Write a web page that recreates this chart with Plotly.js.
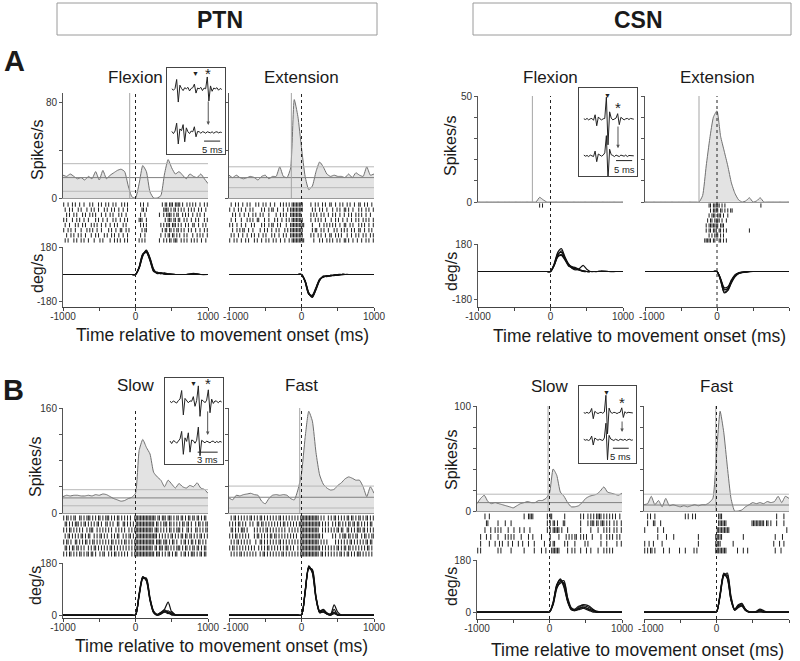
<!DOCTYPE html>
<html><head><meta charset="utf-8">
<script src="https://cdn.plot.ly/plotly-3.0.1.min.js"></script>
<style>html,body{margin:0;padding:0;background:#fff}#chart{width:800px;height:661px}</style>
</head><body><div id="chart"></div>
<script>
// ---------------- DATA ----------------
const psthTime = [-1000,-950,-900,-850,-800,-750,-700,-650,-600,-550,-500,-450,-400,-350,-300,-250,-200,-150,-100,-50,0,50,100,150,200,250,300,350,400,450,500,550,600,650,700,750,800,850,900,950,1000];
const velTime = [-1000,-500,-50,0,50,100,150,200,250,300,350,400,450,500,550,600,650,700,800,900,1000];
const alignTime = 0;
const xTickVals = [-1000,-500,0,500,1000];
const xTickText = ['-1000','','0','','1000'];

// firing rates (spikes/s)
const ptnFlexRate = [19,18,20,18,16,17,15,18,16,22,15,23,16,19,21,23,24,22,10,1,0,12,27,22,5,0,0,2,20,32,25,20,22,19,16,20,18,17,20,16,12];
const ptnExtRate  = [19,17,19,17,16,17,18,17,15,18,19,16,18,18,26,18,17,25,82,68,42,18,7,10,22,30,26,20,18,19,18,18,17,20,17,21,19,18,26,19,20];
const csnFlexRate = [0,0,0,0,0,0,0,0,0,0,0,0,0,0,0,0,0,2.2,1.0,0,0,0,0,0,0,0,0,0,0,0,0,0,0,0,0,0,0,0,0,0,0];
const csnExtRate  = [0,0,0,0,0,0,0,0,0,0,0,0,0,0,0,0,3,17,30,40,43,31,24,17,9,4,1,0,0.5,2,0,0.5,2,0,0,0,0,0,0,0,0];
const ptnSlowRate = [25,27,26,27,27,26,26,27,26,28,27,29,28,25,22,20,18,19,22,24,30,95,112,100,90,62,55,50,40,50,44,38,45,40,38,42,40,46,38,36,30];
const ptnFastRate = [23,20,27,26,28,29,30,28,27,18,14,22,27,28,27,28,27,22,20,35,60,115,155,140,92,58,44,38,35,36,42,46,52,55,53,50,50,40,25,40,30];
const csnSlowRate = [7,12,15,9,7,8,7,6,5,4,3,5,7,8,9,8,8,10,10,12,17,40,34,18,14,8,4,4,5,8,12,14,15,16,19,23,18,17,16,15,17];
const csnFastRate = [6,7,14,6,10,4,12,5,6,5,4,5,4,5,6,5,6,6,8,12,55,95,75,42,12,0,0,1,4,6,8,7,8,7,9,8,9,14,8,14,12];

// significance band limits and mean baseline (spikes/s)
const ptnFlexBand = [28.6, 5.6], ptnFlexMean = [17];
const ptnExtBand  = [26, 8.6],   ptnExtMean  = [17];
const csnFlexBand = [],          csnFlexMean = [];
const csnExtBand  = [],          csnExtMean  = [];
const ptnSlowBand = [35.5, 11],  ptnSlowMean = [23];
const ptnFastBand = [41, 7.6],   ptnFastMean = [24];
const csnSlowBand = [16],        csnSlowMean = [8];
const csnFastBand = [16],        csnFastMean = [5.7];

// response onset markers (ms)
const ptnFlexMark = [-80], ptnExtMark = [-140], csnFlexMark = [-250], csnExtMark = [-250];
const ptnSlowMark = [], ptnFastMark = [-25], csnSlowMark = [-20], csnFastMark = [-10];

// PSTH y ticks
const ptnARateTicks = [0,40,80];
const csnARateTicks = [0,10,20,30,40,50];
const ptnBRateTicks = [0,40,80,120,160];
const csnBRateTicks = [0,20,40,60,80,100];
const velTicksA = [-180,180];
const velTicksB = [0,180];

// rasters: one string per trial, 20 ms bins from -1000 to 1000, '|' = spike
const ptnFlexSpikes = [
"|..|..|.|. .|..|...|. |...|.|..| .|..|.|... |.|.|..... ...|.|..|. ........|. ||.|||.||| |.|..|.|.| .|..|..|.|",
".|..|.|... |.|...|..| .|..|...|. |..|.|..|. .|..|..... ....||.|.. .........| |||.|.||.| .|.|..|.|. |..|.|..|.",
"..|.|..|.| ...|.|..|. |.|...|..| ..|.|...|. |..|...... ...|..|... ......|..| .||||.|.|| ..|.|.|..| ..|.|..|..",
"|.|...|..| .|..|..|.. ..|.|..|.. |...|.|..| ..|.|..... ..|||..|.. .......... |.|||.||.| |..|.|..|. .|.|...|.|",
".|..|...|. |..|.|...| .|.|..|..| ..|..|.|.. .|.|...... ...|.|.|.. .......|.| .|||.|||.| .|..|.|..| |..|..|.|.",
"|..|.|..|. ..|...|.|. |..|..|... .|.|..|..| |..|.|.... ....|.||.. ........|. ||.||.|.|| .|.|..|.|. .|..|..|.|",
"..|..|.|.. |.|..|...| ..|.|...|. |..|.|..|. .|..|..... ...|..|... .......|.. |.||.||.|. |..|.|...| ..|.|.|..|",
".|.|...|.| ..|.|..|.. .|...|.|.. ..|..|.|.| ..|.|..... ..|.|.|... ......|..| .|.||.|||. .|.|.|..|. |.|..|..|."];
const ptnExtSpikes = [
".|..|.|..| ..|.|...|. |..|.|..|. .|...|.|.| .|.||||||| |.....|..| .|..|.|..| |..|..|.|. .|.|..|..| |..|.|..|.",
"|..|..|.|. .|..|.|... ..|.|..|.| |..|...|.. |.|||||||| |......|.| ..|.|..|.. .|..|.|..| |.|..|...| .|..|.|..|",
"..|.|..|.. |..|..|.|. .|.|...|.. ..|..|.|.| ..|||||||| ......|.|. |..|.|..|. .|.|..|..| ..|.|..|.| .|..|..|..",
".|..|...|. ..|.|.|..| |...|..|.. .|.|..|..| .|.||||||| |.....|..| .|.|..|... |..|.|..|. .|..|..|.| ..|.|.|..|",
"|.|..|..|. .|...|.|.. ..|.|..|.| |..|.|...| ..|||||||| ||.....|.. ..|..|.|.| .|.|..|..| |..|.|...| .|.|..|..|",
"..|..|.|.| |..|..|... .|..|.|..| ..|.|...|. |.|||||||| |......|.| |..|.|..|. ..|.|..|.| .|..|.|..| |..|..|.|.",
".|.|..|..| ..|..|.|.. |..|.|...| .|..|..|.| ..|||||||| |.....|.|. .|.|..|..| |..|.|.|.. .|..|..|.| ..|.|..|.|",
"|..|.|..|. .|.|...|.| ..|..|.|.. |.|..|..|. .|.||||||| ||......|. ..|.|..|.| .|..|.|..| |.|..|..|. .|..|.|..|"];
const csnFlexSpikes = [
".......... .......... .......... .......... ..|.|..... .......... .......... .......... .......... ..........",
"","","","","","",""];
const csnExtSpikes = [
".......... .......... .......... .......... ....||.||| ||.|.|.... .......... .......... |......... ..........",
".......... .......... .......... .......... .....|.||| |.||.|.|.| |......... .......... .......... ..........",
".......... .......... .......... .......... ....|.|||. |||.|..|.. .......... .......... .......... ..........",
".......... .......... .......... .......... ...|.||.|| ||.|..|... .......... .......... .......... ..........",
".......... .......... .......... .......... ..|.|||||| |.|||..... .......... .......... .......... ..........",
".......... .......... .......... .......... ..|.||.||| .||.|.|... .......... ..|....... .......... ..........",
".......... .......... .......... .......... ....|.|.|| |.|.|..... .......... .......... .......... ..........",
".......... .......... .......... .......... .|||||.||. .||.|.|... .......... .......... .......... .........."];
const ptnSlowSpikes = [
"|.||.|.||. .||.|.|||. |.|.||.|.| ||.|.|.||. |.|.|.|..| |||||||||| ||||.||.|| |.|||.|.|| .||.|.||.| |.||.|.||.",
".||.|.|.|| |.|.||.|.| .|.||.|..| |.|.|..||. .||.|.|.|. |||||||||| |||.||.|.| ||.||.|.|. |.||.||.|. .|.||.|.||",
"|.|.||.|.| .|.|..|.|| |..|.|.|.| .|.|..|.|. |.|..|.|.| |||||||||| ||.|||.|.| .|.||.|.|| |.|..||.|. .||.|.|.||",
".|.||.|.|. |.||.|.||. .|.|.||.|. |..|.|.||. .|.|.||.|. |||||||||| |||||.|.|. |.|.||.|.| .||.||.||. |.|.||.|.|",
"|.||.|..|| .|.|.||.|. ||.|.|.|.| .|.||.|.|. |.||.|.|.| |||||||||| |||.||||.| ||.|.||.|. .|.||.|.|| .|.||.|.|.",
".||.|.||.| |.|.|..|.| .||.|.|.|. |.||.|.|.| .|.|.|.|.| |||||||||| ||.||.|||. |||.|.|.|| |.|.||.|.| |.||.|.||.",
"|.|.||.|.| .||.|.||.| |.|..|.||. .|.|.||.|. |.|.|..|.| |||||||||| |||.|||.|. |.||.|.||. .|.||.|.|| |.|.||.||."];
const ptnFastSpikes = [
".|.||.|.|. |.|.||.|.| .||.|.|.|. |.|.||.|.| .|.|.|.|.| |||||||||| ||.|.|..|. |.||.|.|.| .||.||.|.| |.|.||.|.|",
"|.|.|.||.| .|..|.|..| |.||.|.|.| .|.|.|.||. |.|.|.|.|| |||||||||| |||.|.|.|. .|.|.||.|. |.||.||.|| .|.|.|.||.",
".||.|.|.|| |.|....|.| .|.|.||.|. |.|.|.|.|. .|.|.|.|.| |||||||||| ||..|.|.|. |.|.||.||. .||.|.|.|| |.||.|.|.|",
"|.|.||.|.| .|.|...|.| |.|.|.|.|| .||.|.|.|. |.|.|.|..| |||||||||| |||.|..... .|.|..|.|| |.||.|.||. .|.||.|.||",
".|.|.||.|. |.|.|...|. .||.|.|.|. |.|.||.|.| .|.|.|.|.| |||||||||| ||.|.|.|.. ...|.|.|.| .|.||.|.|. |.|.||.||.",
"|.||.|.|.| .|.|.|.|.. |.|.|.||.| .|.|.|.|.| |.|.|..|.| |||||||||| |||.|.|.|. |.|.||.|.| |.||.|.|.| .|.|.||.|.",
".|.|.|.||. |.|.|.|.|. .|.||.|.|. |.|.|.||.| .|.|.|.|.| |||||||||| ||.||.|.|. |.|.|.||.| .||.|.|.|| |.|.|.|.|."];
const csnSlowSpikes = [
".....|..|. .......... .......... ..|..||||. ........|. ||........ |......... .|.|..|.|. |.||||.|.| .|.|.|..|.",
"......||.. ....|....| ...|...... .......... ........|. |.||.|...| |......... .|....|.|| |.||.|||.| .|..|.|..|",
".....|...| ..|.|.|... .|...|...| ..|...|... ........|. |.|||||.|. ..|....... .|......|. ...|...|.| .|..|.|..|",
"..|...|..| ....|....| .|.|.|.... |....|..|. ....|..... |.....|... .|.|.|.||. .|.|.|...| .....|...| .|.|..|.|.",
"..|.....|. ..|..|.|.. .|..|...|. .|...|...| ......|... |.||...... |.|....|.. ....|.|... .....|...| ......|..|",
"|.|....... ....|.|... ...|...... ..|......| ....|..|.. .||||||... ..|..|.|.. .|...|..|. ...|...|.| .|.|......"];
const csnFastSpikes = [
"..|.|..|.. .......... ........|. |..|.|.... .......... .|||...... .......... .......... .......... .|....|...",
"..|...||.. .|........ .......... .......... .......... .||||||... .......... ....|||||| |||.||.|.. .|....|...",
"|........| ...|...... .......... .......... .......... |||||||||. .......... .......... .......... ........|.",
".........| .....|.... |......... .......|.. .........| ||||...... ........|. .......... .......... |....|....",
"|..|..|... ..|....... .......... .......|.. .........| |||....... .|........ .......... .........| ...|..|...",
"|.|.||.|.. ...|...|.. ....|...|. ....|.|... .........| |||||||... ....|...|. .|........ .......... |...|....."];

// angular velocity traces (deg/s), one array per trial, sampled at velTime
const ptnFlexVel = [
[0,0,0,0,45,128,152,98,28,10,8,4,0,0,0,0,0,0,0,0,0],
[0,0,0,0,40,120,158,110,35,5,12,6,2,0,0,0,0,0,0,0,0],
[0,0,0,0,50,135,148,90,20,15,5,8,3,0,0,0,0,0,8,0,0],
[0,0,0,0,42,124,160,105,30,8,10,2,0,4,0,0,0,0,0,0,0],
[0,0,0,0,48,132,145,95,22,12,6,10,5,0,0,0,0,0,5,0,0]];
const ptnExtVel = [
[0,0,0,0,-45,-125,-140,-90,-35,-15,-10,-8,-5,-3,0,0,0,0,0,0,0],
[0,0,0,0,-40,-118,-148,-100,-40,-12,-12,-6,-8,-2,0,0,0,0,0,0,0],
[0,0,0,0,-50,-130,-135,-85,-30,-18,-8,-10,-4,-5,-2,0,0,0,0,0,0],
[0,0,0,0,-42,-122,-150,-95,-38,-10,-14,-5,-6,0,0,0,0,0,0,0,0],
[0,0,0,0,-46,-128,-142,-92,-32,-16,-9,-9,-3,-4,0,0,0,0,0,0,0]];
const csnFlexVel = [
[0,0,0,0,40,100,110,80,40,25,20,10,0,0,0,0,0,0,0,0,0],
[0,0,0,0,45,115,125,85,45,30,15,10,5,0,0,0,0,0,0,0,0],
[0,0,0,0,50,125,150,95,45,20,10,20,40,15,0,0,0,0,0,0,0],
[0,0,0,0,38,95,105,75,35,30,25,12,5,0,0,0,0,5,0,0,0],
[0,0,0,0,42,105,135,90,50,22,18,8,3,0,0,0,0,0,0,0,0]];
const csnExtVel = [
[0,0,0,0,-50,-120,-110,-60,-25,-10,-5,-2,0,0,0,0,0,0,0,0,0],
[0,0,0,0,-60,-135,-120,-70,-30,-12,-6,0,0,0,0,0,0,0,0,0,0],
[0,0,0,0,-45,-105,-100,-55,-20,-8,-4,-3,0,0,0,0,0,0,0,0,0],
[0,0,0,0,-55,-140,-125,-75,-35,-15,-8,-4,-2,0,0,0,0,0,0,0,0],
[0,0,0,0,-52,-115,-112,-62,-28,-10,-5,-2,0,0,0,0,0,0,0,0,0]];
const ptnSlowVel = [
[0,0,0,0,70,130,120,55,10,0,5,15,8,0,0,0,0,0,0,0,0],
[0,0,0,0,65,125,128,60,12,2,10,20,45,10,0,0,0,0,0,0,0],
[0,0,0,0,75,133,118,50,8,0,3,12,5,12,0,0,0,0,0,0,0],
[0,0,0,0,68,128,125,58,14,3,8,18,10,2,0,0,0,0,0,0,0],
[0,0,0,0,72,132,122,52,9,0,6,10,15,5,2,0,0,0,0,0,0]];
const ptnFastVel = [
[0,0,0,0,80,165,150,60,10,15,5,0,20,0,0,0,0,0,0,0,0],
[0,0,0,0,75,160,158,65,12,20,8,2,35,10,0,0,0,0,0,0,0],
[0,0,0,0,85,170,145,55,8,10,3,0,5,0,0,0,0,0,0,0,0],
[0,0,0,0,78,162,155,62,15,18,6,4,10,0,0,0,0,0,0,0,0],
[0,0,0,0,82,168,148,58,9,12,4,0,8,3,0,0,0,0,0,0,0]];
const csnSlowVel = [
[0,0,0,0,30,90,110,95,40,10,5,10,18,15,10,5,0,0,0,0,0],
[0,0,0,0,25,80,105,108,50,15,8,15,25,25,20,10,0,0,0,0,0],
[0,0,0,0,35,95,112,85,35,8,5,12,15,10,5,0,0,0,0,0,0],
[0,0,0,0,28,85,100,102,45,12,10,20,22,20,15,8,3,0,0,0,0],
[0,0,0,0,32,92,115,90,38,10,6,8,12,14,8,3,0,0,0,0,0]];
const csnFastVel = [
[0,0,0,0,60,130,120,45,8,20,25,8,0,0,0,5,0,0,0,0,0],
[0,0,0,0,55,125,135,55,10,25,30,10,0,0,3,10,5,0,0,0,0],
[0,0,0,0,65,135,115,40,6,15,20,5,0,0,0,0,0,0,0,0,0],
[0,0,0,0,58,128,128,50,9,22,28,8,2,0,0,8,2,0,0,0,0],
[0,0,0,0,62,132,118,42,7,18,22,6,0,0,0,3,0,0,0,0,0]];

// inset waveforms (ms, arbitrary units)
const wfTime18 = [1.5,2,2.5,3,3.5,4,4.5,5,5.5,6,6.5,7,7.5,8,8.5,9,9.5,10,10.5,11,11.5,12,12.5,13,13.5,14,14.5,15,15.5,16,16.5,17];
const wfTime9  = [0.75,1,1.25,1.5,1.75,2,2.25,2.5,2.75,3,3.25,3.5,3.75,4,4.25,4.5,4.75,5,5.25,5.5,5.75,6,6.25,6.5,6.75,7,7.25,7.5,7.75,8,8.25,8.5];
const ptnAUpper = [0.2,-0.2,0.3,2.8,-3.5,1.2,0.3,-0.3,0.5,0.2,0.6,-0.4,0.3,0.5,1.5,-1.0,0.4,0.2,0.6,-0.3,0.4,0.2,3.5,-3.2,1.0,-0.5,0.4,0.2,0.5,-0.2,0.3,0];
const ptnALower = [0.3,-0.3,0.4,2.6,-3.2,1.0,0.5,2.2,-2.6,1.3,0.2,-0.3,0.4,0.2,1.6,-1.2,0.3,0.2,-0.2,0.2,0.1,-0.2,0.2,0.1,-0.1,0.2,-0.2,0.1,0.2,-0.1,0.1,0];
const csnAUpper = [0.1,-0.1,0.2,-0.2,0.1,0.2,-0.3,1.2,-1.8,0.6,0.1,-0.2,0.1,0.2,6.0,-7.0,2.0,0.3,-0.2,0.1,0.3,1.5,-1.5,0.5,0.2,-0.2,0.1,0.2,-0.1,0.2,0.1,0];
const csnALower = [0.2,-0.1,0.1,-0.2,0.2,0.1,-0.2,1.3,-1.6,0.5,0.2,-0.1,0.2,0.8,5.5,-6.5,1.8,0.3,0.1,-0.2,0.2,0.1,-0.2,0.2,0.1,-0.1,0.2,-0.2,0.1,0.1,-0.1,0];
const ptnBUpper = [0.2,-0.2,0.3,0.1,-0.3,0.4,0.8,3.2,-3.6,1.0,0.3,-0.2,0.3,0.2,1.5,-1.2,0.4,4.5,-4.0,0.6,0.3,-0.2,0.5,3.4,-3.0,0.8,-0.4,0.3,0.2,-0.2,0.3,0];
const ptnBLower = [0.3,-0.4,0.4,0.2,-0.3,0.5,0.9,3.0,-3.4,1.2,0.2,2.6,-2.8,0.6,0.4,-0.3,0.5,4.2,-3.8,0.5,0.2,-0.2,0.3,0.1,-0.2,0.2,0.3,-0.2,0.2,-0.1,0.2,0];
const csnBUpper = [0.1,-0.1,0.2,-0.1,0.2,1.4,-1.8,0.5,0.1,-0.2,0.1,0.2,-0.1,0.3,5.5,-6.5,1.5,0.2,-0.1,0.2,0.1,-0.2,0.1,0.2,1.6,-1.4,0.4,-0.1,0.2,0.1,-0.1,0];
const csnBLower = [0.2,-0.1,0.1,-0.2,0.1,1.2,-1.6,0.6,0.2,-0.1,0.2,0.1,-0.2,0.6,5.2,-6.2,1.4,0.3,0.1,-0.2,0.2,0.1,-0.2,0.2,0.1,-0.1,0.2,-0.2,0.1,0.2,-0.1,0];

// ---------------- LAYOUT ----------------
const W = 800, H = 661;
function fx(p){ return p / W; }
function fy(p){ return 1 - p / H; }
const FONT = 'Liberation Sans, Arial, Helvetica, sans-serif';
const tickFont = {family: FONT, size: 10, color: '#333'};

const groups = {
  ptnA: {cols: [[63,208],[229,374]], psth: [93,198], raster: [202,243], vel: [247,307], titleY: 77,
         rateMax: 87.5, rateTicks: ptnARateTicks, velRange: [-213,180], velTicks: velTicksA, rows: 8},
  csnA: {cols: [[478,623],[645,789]], psth: [96,202], raster: [203,243], vel: [244,307], titleY: 77,
         rateMax: 50, rateTicks: csnARateTicks, velRange: [-232,180], velTicks: velTicksA, rows: 8},
  ptnB: {cols: [[63,208],[229,374]], psth: [408,513], raster: [515,557], vel: [563,618], titleY: 385,
         rateMax: 160, rateTicks: ptnBRateTicks, velRange: [-10,180], velTicks: velTicksB, rows: 7},
  csnB: {cols: [[477,622],[644,789]], psth: [406,511], raster: [513,554], vel: [560,619], titleY: 386,
         rateMax: 100, rateTicks: csnBRateTicks, velRange: [-24,180], velTicks: velTicksB, rows: 6}
};

const panels = [
  {group:'ptnA', col:0, title:'Flexion',   rate:ptnFlexRate, band:ptnFlexBand, mean:ptnFlexMean, mark:ptnFlexMark, spikes:ptnFlexSpikes, vel:ptnFlexVel},
  {group:'ptnA', col:1, title:'Extension', rate:ptnExtRate,  band:ptnExtBand,  mean:ptnExtMean,  mark:ptnExtMark,  spikes:ptnExtSpikes,  vel:ptnExtVel},
  {group:'csnA', col:0, title:'Flexion',   rate:csnFlexRate, band:csnFlexBand, mean:csnFlexMean, mark:csnFlexMark, spikes:csnFlexSpikes, vel:csnFlexVel},
  {group:'csnA', col:1, title:'Extension', rate:csnExtRate,  band:csnExtBand,  mean:csnExtMean,  mark:csnExtMark,  spikes:csnExtSpikes,  vel:csnExtVel},
  {group:'ptnB', col:0, title:'Slow',      rate:ptnSlowRate, band:ptnSlowBand, mean:ptnSlowMean, mark:ptnSlowMark, spikes:ptnSlowSpikes, vel:ptnSlowVel},
  {group:'ptnB', col:1, title:'Fast',      rate:ptnFastRate, band:ptnFastBand, mean:ptnFastMean, mark:ptnFastMark, spikes:ptnFastSpikes, vel:ptnFastVel},
  {group:'csnB', col:0, title:'Slow',      rate:csnSlowRate, band:csnSlowBand, mean:csnSlowMean, mark:csnSlowMark, spikes:csnSlowSpikes, vel:csnSlowVel},
  {group:'csnB', col:1, title:'Fast',      rate:csnFastRate, band:csnFastBand, mean:csnFastMean, mark:csnFastMark, spikes:csnFastSpikes, vel:csnFastVel}
];

const layout = {
  width: W, height: H, margin: {l:0, r:0, t:0, b:0}, showlegend: false,
  paper_bgcolor: '#ffffff', plot_bgcolor: 'rgba(0,0,0,0)',
  font: {family: FONT, color: '#222'}, shapes: [], annotations: []
};
const traces = [];
let axN = 0;
function addAxes(xc, yc){
  axN++;
  const s = axN === 1 ? '' : String(axN);
  layout['xaxis' + s] = Object.assign({anchor: 'y' + s, showgrid: false, zeroline: false, automargin: false, fixedrange: true}, xc);
  layout['yaxis' + s] = Object.assign({anchor: 'x' + s, showgrid: false, zeroline: false, automargin: false, fixedrange: true}, yc);
  return {x: 'x' + s, y: 'y' + s};
}
function note(px, py, text, size, extra){
  layout.annotations.push(Object.assign({xref:'paper', yref:'paper', x: fx(px), y: fy(py), text: text, showarrow: false,
    xanchor:'center', yanchor:'middle', font:{family: FONT, size: size, color:'#1a1a1a'}}, extra || {}));
}

panels.forEach(p => {
  const g = groups[p.group];
  const c = g.cols[p.col];
  const left = p.col === 0;
  const xdom = [fx(c[0]), fx(c[1])];
  const n = g.rateTicks.length;
  // PSTH
  const a1 = addAxes(
    {domain: xdom, range: [-1000, 1000], showline: true, linecolor: '#9a9a9a', linewidth: 1, ticks: '', showticklabels: false},
    {domain: [fy(g.psth[1]), fy(g.psth[0])], range: [0, g.rateMax], showline: true, linecolor: '#555', linewidth: 1,
     ticks: 'outside', ticklen: 3, tickcolor: '#555', tickvals: g.rateTicks,
     ticktext: g.rateTicks.map((v, i) => (left && (i === 0 || i === n - 1)) ? String(v) : ''), tickfont: tickFont});
  traces.push({type:'scatter', x: psthTime, y: p.rate, xaxis: a1.x, yaxis: a1.y, mode:'lines',
    line:{color:'#707070', width:1, shape:'spline', smoothing:0.5}, fill:'tozeroy', fillcolor:'#e3e3e3', hoverinfo:'skip'});
  p.band.forEach(v => layout.shapes.push({type:'line', xref: a1.x, yref: a1.y, x0: psthTime[0], x1: psthTime[psthTime.length-1], y0: v, y1: v, line:{color:'#b8b8b8', width:1}}));
  p.mean.forEach(v => layout.shapes.push({type:'line', xref: a1.x, yref: a1.y, x0: psthTime[0], x1: psthTime[psthTime.length-1], y0: v, y1: v, line:{color:'#808080', width:1}}));
  p.mark.forEach(m => layout.shapes.push({type:'line', xref: a1.x, yref: a1.y, x0: m, x1: m, y0: 0, y1: g.rateMax, line:{color:'#a5a5a5', width:1}}));
  // raster
  const a2 = addAxes({domain: xdom, range: [-1000, 1000], visible: false},
                     {domain: [fy(g.raster[1]), fy(g.raster[0])], range: [g.rows + 0.5, 0.5], visible: false});
  const rx = [], ry = [];
  p.spikes.forEach((row, ri) => {
    const s = row.replace(/ /g, '');
    for (let i = 0; i < s.length; i++) {
      if (s[i] === '|') { const t = -1000 + 20 * i + 10; rx.push(t, t, null); ry.push(ri + 1 - 0.42, ri + 1 + 0.42, null); }
    }
  });
  traces.push({type:'scatter', x: rx, y: ry, xaxis: a2.x, yaxis: a2.y, mode:'lines', line:{color:'#1e1e1e', width:1}, hoverinfo:'skip'});
  // velocity
  const a3 = addAxes(
    {domain: xdom, range: [-1000, 1000], showline: true, linecolor: '#444', linewidth: 1, ticks: 'outside', ticklen: 3, tickcolor: '#444',
     ticklabelstandoff: -3,
     tickvals: xTickVals, ticktext: xTickText.map((t, i) => (!left && i === 0) ? '' : t), tickfont: tickFont},
    {domain: [fy(g.vel[1]), fy(g.vel[0])], range: g.velRange, showline: left, linecolor: '#555', linewidth: 1,
     ticks: left ? 'outside' : '', ticklen: 3, tickcolor: '#555', tickvals: g.velTicks, ticktext: g.velTicks.map(String),
     showticklabels: left, tickfont: tickFont});
  if (!left) {
    // first tick label of the right-hand panel, nudged right as in the original figure
    layout.annotations.push({xref: 'paper', yref: 'paper', x: fx(c[0]), y: fy(g.vel[1] + 9.5), text: xTickText[0],
      showarrow: false, xanchor: 'center', yanchor: 'middle', xshift: 7, font: tickFont});
  }
  p.vel.forEach(tr => traces.push({type:'scatter', x: velTime, y: tr, xaxis: a3.x, yaxis: a3.y, mode:'lines',
    line:{color:'#111', width:1.2, shape:'spline', smoothing:0.7}, hoverinfo:'skip'}));
  // alignment line (dotted) through all three rows
  layout.shapes.push({type:'line', xref: a3.x, yref:'paper', x0: alignTime, x1: alignTime, y0: fy(g.vel[1]), y1: fy(g.psth[0]),
    line:{color:'#222', width:1, dash:'dot'}});
  // column title
  note((c[0] + c[1]) / 2, g.titleY, p.title, 17);
});

// insets with antidromic collision test waveforms
const insets = [
  {box:[167,225,68,154], xr:[0,18], t: wfTime18, up: ptnAUpper, lo: ptnALower, offU: 6, offL: -6,
   stim:[8.7,10.6], star:[12.8,10.4], arrow:[12.8,3.1,-3.9], bar:[11.5,16.5,-8.4], barLabel:'5 ms', labelY:-10.8},
  {box:[579,637,88,176], xr:[0,18], t: wfTime18, up: csnAUpper, lo: csnALower, offU: 3.5, offL: -6.5,
   stim:[8.7,10.0], star:[12.1,6.6], arrow:[12.1,1.9,-4.4], bar:[11.5,16.5,-7.8], barLabel:'5 ms', labelY:-10.2},
  {box:[165,223,378,464], xr:[0,8.7], t: wfTime9, up: ptnBUpper, lo: ptnBLower, offU: 5.3, offL: -5.9,
   stim:[4.2,10.6], star:[6.4,10.4], arrow:[6.4,3.1,-3.9], bar:[4.9,7.9,-8.7], barLabel:'3 ms', labelY:-10.7},
  {box:[579,636,386,463], xr:[0,18], t: wfTime18, up: csnBUpper, lo: csnBLower, offU: 3.6, offL: -4.8,
   stim:[8.8,9.9], star:[13.6,6.8], arrow:[13.6,1.4,-2.3], bar:[10.7,15.7,-7.4], barLabel:'5 ms', labelY:-9.9}
];
insets.forEach(s => {
  const a = addAxes(
    {domain:[fx(s.box[0]), fx(s.box[1])], range: s.xr, showline: true, mirror: true, linecolor:'#444', linewidth: 1, ticks:'', showticklabels:false},
    {domain:[fy(s.box[3]), fy(s.box[2])], range: [-12, 12], showline: true, mirror: true, linecolor:'#444', linewidth: 1, ticks:'', showticklabels:false});
  traces.push({type:'scatter', x: s.t, y: s.up.map(v => v + s.offU), xaxis: a.x, yaxis: a.y, mode:'lines', line:{color:'#222', width:1}, hoverinfo:'skip'});
  traces.push({type:'scatter', x: s.t, y: s.lo.map(v => v + s.offL), xaxis: a.x, yaxis: a.y, mode:'lines', line:{color:'#222', width:1}, hoverinfo:'skip'});
  layout.annotations.push({xref: a.x, yref: a.y, x: s.stim[0], y: s.stim[1], text:'▼', showarrow:false, font:{size:7, color:'#222'}});
  layout.annotations.push({xref: a.x, yref: a.y, x: s.star[0], y: s.star[1], text:'*', showarrow:false, font:{size:15, color:'#222'}});
  layout.annotations.push({xref: a.x, yref: a.y, axref: a.x, ayref: a.y, x: s.arrow[0], y: s.arrow[2], ax: s.arrow[0], ay: s.arrow[1],
    text:'', showarrow:true, arrowhead:2, arrowsize:0.7, arrowwidth:1, arrowcolor:'#555'});
  layout.shapes.push({type:'line', xref: a.x, yref: a.y, x0: s.bar[0], x1: s.bar[1], y0: s.bar[2], y1: s.bar[2], line:{color:'#222', width:1}});
  layout.annotations.push({xref: a.x, yref: a.y, x: (s.bar[0] + s.bar[1]) / 2, y: s.labelY, text: s.barLabel, showarrow:false,
    font:{family: FONT, size:9.5, color:'#222'}});
});

// header boxes
layout.shapes.push({type:'rect', xref:'paper', yref:'paper', x0: fx(57), x1: fx(377), y0: fy(35), y1: fy(3), line:{color:'#9a9a9a', width:1}});
layout.shapes.push({type:'rect', xref:'paper', yref:'paper', x0: fx(473), x1: fx(791), y0: fy(35), y1: fy(3), line:{color:'#9a9a9a', width:1}});
note(220, 20, '<b>PTN</b>', 23);
note(638, 20, '<b>CSN</b>', 23);
note(14, 61, '<b>A</b>', 29);
note(13, 390, '<b>B</b>', 29);

// axis labels
const rot = {textangle: -90};
note(37, 150, 'Spikes/s', 16, rot);
note(37, 274, 'deg/s', 16, rot);
note(451, 146, 'Spikes/s', 16, rot);
note(451, 272, 'deg/s', 16, rot);
note(35, 467, 'Spikes/s', 16, rot);
note(35, 586, 'deg/s', 16, rot);
note(451, 460, 'Spikes/s', 16, rot);
note(451, 587, 'deg/s', 16, rot);
const xTitle = 'Time relative to movement onset (ms)';
note(222, 335, xTitle, 17.5);
note(639, 336, xTitle, 17.5);
note(221, 646, xTitle, 17.5);
note(637, 650, xTitle, 17.5);

Plotly.newPlot('chart', traces, layout, {staticPlot: true, displayModeBar: false});
</script></body></html>
